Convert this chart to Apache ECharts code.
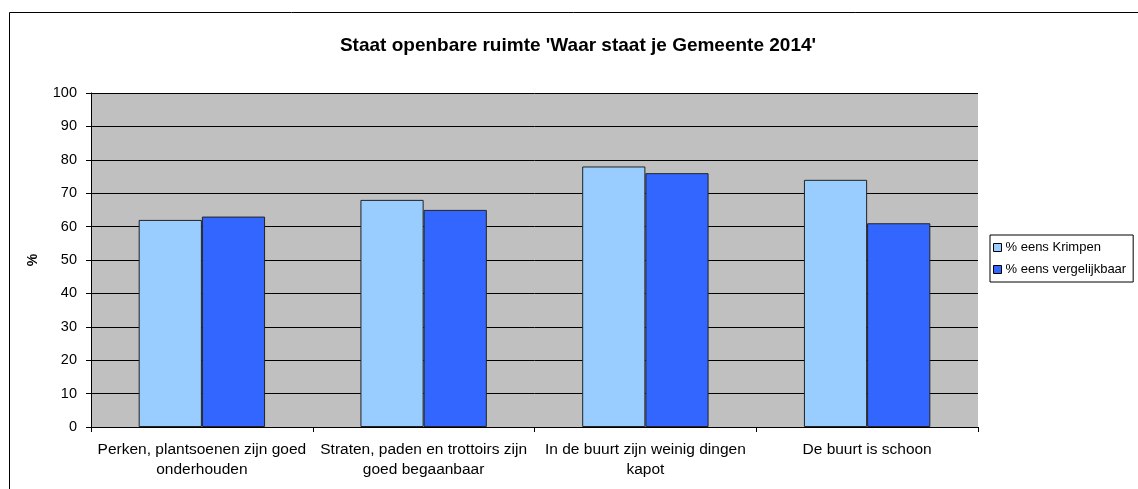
<!DOCTYPE html>
<html>
<head>
<meta charset="utf-8">
<script src="https://cdn.jsdelivr.net/npm/echarts@6/dist/echarts.min.js"></script>
<style>
  html, body { margin: 0; padding: 0; background: #fff; }
  #chart { width: 1138px; height: 489px; }
</style>
</head>
<body>
<div id="chart"></div>
<script>
// chart data
const categories = [
    'Perken, plantsoenen zijn goed\nonderhouden',
    'Straten, paden en trottoirs zijn\ngoed begaanbaar',
    'In de buurt zijn weinig dingen\nkapot',
    'De buurt is schoon'
];
const krimpen = [62, 68, 78, 74];
const vergelijkbaar = [63, 65, 76, 61];
const seriesNames = ['% eens Krimpen', '% eens vergelijkbaar'];
const titleText = "Staat openbare ruimte 'Waar staat je Gemeente 2014'";

const font = '"Liberation Sans", Arial, sans-serif';
const chart = echarts.init(document.getElementById('chart'), null, { renderer: 'canvas' });

chart.setOption({
    backgroundColor: '#fff',
    animation: false,
    textStyle: { fontFamily: font, color: '#000' },
    title: {
        text: titleText,
        left: 573, top: 31, textAlign: 'center',
        textStyle: { fontFamily: font, fontSize: 19, fontWeight: 'bold', color: '#000' }
    },
    // outer chart frame (only top and left edges are visible)
    graphic: [{
        type: 'polyline', silent: true,
        shape: { points: [[9.5, 489], [9.5, 12.5], [1138, 12.5]] },
        style: { stroke: '#000', lineWidth: 1, fill: null }
    }],
    legend: {
        orient: 'vertical',
        left: 990, top: 235,
        padding: [6, 7, 6, 3],
        itemGap: 9,
        itemWidth: 8, itemHeight: 8,
        borderColor: '#000', borderWidth: 1,
        backgroundColor: '#fff',
        icon: 'rect',
        itemStyle: { borderColor: '#000', borderWidth: 1 },
        textStyle: { fontFamily: font, fontSize: 13, color: '#000', padding: [0, 0, 0, -1] },
        data: seriesNames
    },
    grid: {
        left: 91, right: 160, top: 93, bottom: 62,
        show: true, backgroundColor: '#C0C0C0', borderWidth: 0
    },
    xAxis: {
        type: 'category',
        data: categories,
        axisLine: { lineStyle: { color: '#000', width: 1 } },
        axisTick: { show: true, length: 5, interval: 0, lineStyle: { color: '#000' } },
        axisLabel: { interval: 0, fontSize: 15.5, color: '#000', lineHeight: 20, margin: 13 }
    },
    yAxis: {
        type: 'value',
        min: 0, max: 100, interval: 10,
        name: '%',
        nameLocation: 'middle',
        nameGap: 51,
        nameRotate: 90,
        nameTextStyle: { fontFamily: font, fontSize: 14, fontWeight: 'bold', color: '#000' },
        axisLine: { show: true, lineStyle: { color: '#000', width: 1 } },
        axisTick: { show: true, length: 5, lineStyle: { color: '#000' } },
        axisLabel: { fontSize: 14.5, color: '#000', margin: 14 },
        splitLine: { show: true, lineStyle: { color: '#000', width: 1 } }
    },
    series: [
        {
            name: seriesNames[0], type: 'bar', data: krimpen,
            barGap: '0%', barCategoryGap: '43%',
            itemStyle: { color: '#99CCFF', borderColor: '#222', borderWidth: 1 }
        },
        {
            name: seriesNames[1], type: 'bar', data: vergelijkbaar,
            barGap: '0%', barCategoryGap: '43%',
            itemStyle: { color: '#3366FF', borderColor: '#222', borderWidth: 1 }
        }
    ]
});
</script>
</body>
</html>
